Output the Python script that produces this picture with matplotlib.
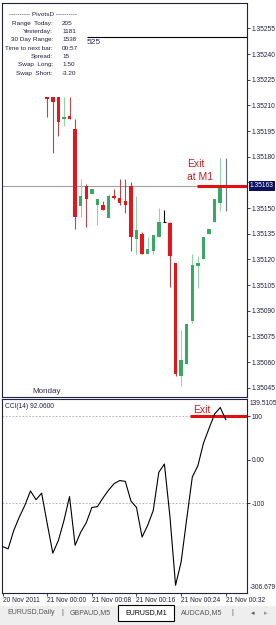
import matplotlib
matplotlib.use("Agg")
import matplotlib.pyplot as plt
import matplotlib.transforms as mtrans
from matplotlib.patches import Rectangle

plt.rcParams['font.family'] = ['Liberation Sans', 'DejaVu Sans']

# EURUSD M1 bars, minutes after 21 Nov 2011 00:00
bar_min = list(range(0, 33))
opens = [1.35215, 1.35215, 1.35215, 1.35202, 1.35204, 1.35196, 1.35151, 1.35163, 1.35158, 1.35152,
         1.35152, 1.35144, 1.35157, 1.35156, 1.35154, 1.35163, 1.35132, 1.35135, 1.35123, 1.35125,
         1.35133, 1.35142, 1.35141, 1.35118, 1.35052, 1.35059, 1.35084, 1.35116, 1.35120, 1.35135,
         1.35142, 1.35153, 1.35163]
highs = [1.35215, 1.35215, 1.35215, 1.35215, 1.35215, 1.35202, 1.35167, 1.35164, 1.35161, 1.35155,
         1.35154, 1.35158, 1.35161, 1.35167, 1.35167, 1.35165, 1.35157, 1.35136, 1.35133, 1.35134,
         1.35150, 1.35149, 1.35142, 1.35118, 1.35079, 1.35082, 1.35123, 1.35122, 1.35133, 1.35138,
         1.35155, 1.35179, 1.35179]
lows = [1.35203, 1.35182, 1.35192, 1.35198, 1.35202, 1.35138, 1.35145, 1.35139, 1.35158, 1.35140,
        1.35149, 1.35144, 1.35155, 1.35152, 1.35147, 1.35125, 1.35123, 1.35123, 1.35123, 1.35123,
        1.35133, 1.35142, 1.35104, 1.35052, 1.35046, 1.35059, 1.35083, 1.35103, 1.35120, 1.35135,
        1.35142, 1.35148, 1.35148]
closes = [1.35214, 1.35212, 1.35200, 1.35203, 1.35202, 1.35145, 1.35157, 1.35155, 1.35161, 1.35155,
          1.35149, 1.35157, 1.35156, 1.35153, 1.35152, 1.35133, 1.35137, 1.35123, 1.35126, 1.35134,
          1.35142, 1.35142, 1.35122, 1.35053, 1.35061, 1.35082, 1.35117, 1.35118, 1.35133, 1.35138,
          1.35155, 1.35162, 1.35163]

# CCI(14) values, from 20 Nov 23:52
cci_min = list(range(-8, 33))
cci_vals = [-200, -205, -163, -132, -105, -72, -92, -77,
            -147, -215, -186, -140, -85, -197, -167, -145, -110, -108, -88, -70,
            -55, -48, -50, -95, -110, -178, -151, -117, -29, -10, -132, -289,
            -235, -136, -40, -14, 38, 72, 105, 120, 92.06]

price_ticks = [1.35045 + 0.00015 * k for k in range(15)]
time_ticks = [-8, 0, 8, 16, 24, 32]
time_labels = ['20 Nov 2011', '21 Nov 00:00', '21 Nov 00:08', '21 Nov 00:16',
               '21 Nov 00:24', '21 Nov 00:32']
last_price = 1.35163
pivot_rows = [('Range  Today:', '205'), ('Yesterday:', '1181'), ('30 Day Range:', '1538'),
              ('Time to next bar:', '00:57'), ('Spread:', '15'), ('Swap  Long:', '1.50'),
              ('Swap  Short:', '-3.20')]
tabs = ['EURUSD,Daily', 'GBPAUD,M5', 'EURUSD,M1', 'AUDCAD,M5']

W, H = 276, 625
def fx(x):
    return x / W
def fy(y):
    return 1 - y / H

frame = '#202040'
fig = plt.figure(figsize=(2.76, 6.25), dpi=100)
fig.patch.set_facecolor('white')

ax = fig.add_axes([fx(2), fy(397), 245 / W, 394 / H])
cax = fig.add_axes([fx(2), fy(593), 245 / W, 194 / H])
for a in (ax, cax):
    a.set_xlim(-8.1, 35.8)
    for s in a.spines.values():
        s.set_color(frame)
        s.set_linewidth(0.8)
    a.yaxis.tick_right()
    a.tick_params(axis='y', direction='out', length=2, width=0.6, labelsize=4.8,
                  pad=1.5, colors=frame)

# ---- price panel
ax.set_ylim(1.350396, 1.352698)
ax.set_yticks(price_ticks)
# 1.35165 sits under the current price tag
ax.set_yticklabels(['' if abs(p - last_price) < 0.00005 else '%.5f' % p for p in price_ticks])
ax.set_xticks([])

ax.axhline(last_price, color='#a0a0a0', lw=0.8, zorder=1)
ax.hlines(1.35250, 7.1, 35.8, color='black', lw=0.8, zorder=1)
ax.text(7.1, 1.352485, '525', fontsize=6, color='#303050', va='top', ha='left')

for i, x in enumerate(bar_min):
    o, h, l, c = opens[i], highs[i], lows[i], closes[i]
    if i == len(bar_min) - 1:
        bc, wc = '#6b7394', '#6b7394'
    elif c > o:
        bc, wc = '#3aa865', '#93d3aa'
    elif c < o:
        bc, wc = '#e3161b', '#b84848'
    else:
        bc, wc = 'black', 'black'
    ax.vlines(x, l, h, color=wc, lw=0.8, zorder=2)
    if c == o:
        ax.hlines(o, x - 0.3, x + 0.3, color=bc, lw=0.8, zorder=3)
    else:
        ax.bar(x, abs(c - o), bottom=min(o, c), width=0.62, color=bc, lw=0, zorder=3)

ax.hlines(last_price, 26.85, 35.8, color='#e41010', lw=2.2, zorder=4)
ax.text(25.05, 1.35176, 'Exit', color='#c42020', fontsize=7.5, va='center', ha='left')
ax.text(25.0, 1.35168, 'at M1', color='#c42020', fontsize=7.5, va='center', ha='left')

tr = mtrans.blended_transform_factory(ax.transAxes, ax.transData)
ax.text(1.012, last_price, '1.35163', transform=tr, fontsize=4.8, color='white',
        va='center', ha='left', clip_on=False, zorder=10,
        bbox=dict(boxstyle='square,pad=0.2', fc='#0b1060', ec='none'))

# pivots box
fig.text(fx(43), fy(15), '---------- PivotsD ----------', fontsize=4.6, ha='center', va='center',
         color='#202040')
for k, (lab, val) in enumerate(pivot_rows):
    yy = 23.3 + 8.33 * k
    fig.text(fx(53), fy(yy), lab, fontsize=4.6, ha='right', va='center', color='#202040')
    fig.text(fx(62), fy(yy), val, fontsize=4.6, ha='left', va='center', color='#202040')

fig.text(fx(32), fy(391.5), 'Monday', fontsize=5.8, ha='left', va='center', color='#303050')

# ---- CCI panel
cax.set_ylim(-306.679, 139.5105)
cax.set_yticks([100, 0, -100])
cax.set_yticklabels(['100', '0.00', '-100'])
for lv in (100, -100):
    cax.axhline(lv, color='#a8a8a8', lw=0.6, ls=(0, (2, 2)), zorder=1)
cax.plot(cci_min, cci_vals, color='black', lw=0.8, zorder=3)
cax.hlines(100, 25.6, 35.8, color='#e41010', lw=2.2, zorder=2)
cax.text(26.1, 114, 'Exit', color='#c42020', fontsize=7.5, va='center', ha='left')
cax.text(0.012, 0.98, 'CCI(14) 92.0600', transform=cax.transAxes, fontsize=4.8,
         va='top', ha='left', color='#202040')
cax.text(1.012, 0.995, '139.5105', transform=cax.transAxes, fontsize=4.8, va='top',
         ha='left', color=frame, clip_on=False)
cax.text(1.012, 0.01, '-306.679', transform=cax.transAxes, fontsize=4.8, va='bottom',
         ha='left', color=frame, clip_on=False)

cax.set_xticks(time_ticks)
cax.set_xticklabels(time_labels, ha='left')
cax.tick_params(axis='x', direction='out', length=2, width=0.6, labelsize=4.8, pad=1,
                colors=frame)

# ---- tab bar
fig.patches.append(Rectangle((0, 0), 1, fy(606), transform=fig.transFigure,
                             fc='#eeeeee', ec='none', zorder=0))
fig.patches.append(Rectangle((fx(118), fy(621)), 56 / W, 16 / H, transform=fig.transFigure,
                             fc='white', ec='black', lw=0.8, zorder=1))
tab_x = [31, 90, 146, 202]
for t, xx in zip(tabs, tab_x):
    fig.text(fx(xx), fy(613), t, fontsize=5, ha='center', va='center',
             color='black' if t == 'EURUSD,M1' else '#555555')
for xx in (62, 232):
    fig.text(fx(xx), fy(613), '|', fontsize=5.5, ha='center', va='center', color='#555555')
fig.text(fx(253), fy(613), '\u25c2', fontsize=5, ha='center', va='center', color='#555555',
         family='DejaVu Sans')
fig.text(fx(266), fy(613), '\u25b8', fontsize=5, ha='center', va='center', color='#999999',
         family='DejaVu Sans')

fig.savefig('out.png', dpi=100)
